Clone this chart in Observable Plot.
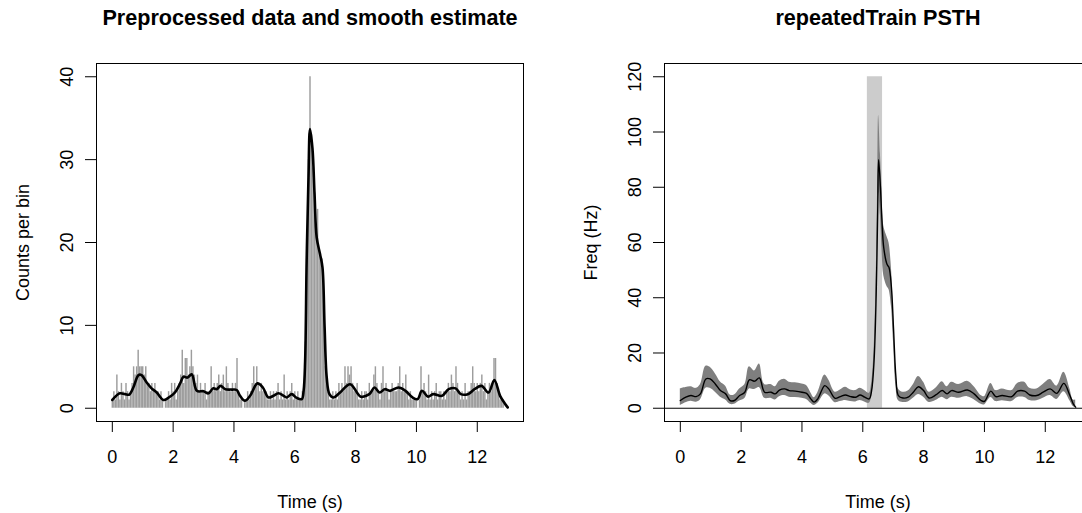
<!DOCTYPE html>
<html><head><meta charset="utf-8">
<script src="https://cdn.jsdelivr.net/npm/d3@7"></script>
<script src="https://cdn.jsdelivr.net/npm/@observablehq/plot@0.6"></script>
<style>
html,body{margin:0;padding:0;background:#fff;overflow:hidden;width:1082px;height:513px;position:relative;}
#left{position:absolute;left:0;top:0;width:541px;height:513px;}
#right{position:absolute;left:541px;top:0;width:551px;height:513px;}
svg{display:block;max-width:none !important;}
</style></head><body>
<div id="left"></div><div id="right"></div>
<script>
// ---------- data ----------
const leftTitle = "Preprocessed data and smooth estimate";
const rightTitle = "repeatedTrain PSTH";
const xLabel = "Time (s)";
const leftYLabel = "Counts per bin";
const rightYLabel = "Freq (Hz)";
const xTicks = [0, 2, 4, 6, 8, 10, 12];
const leftYTicks = [0, 10, 20, 30, 40];
const rightYTicks = [0, 20, 40, 60, 80, 100, 120];

// counts per bin (bins of 0.05 s from 0 to 13 s)
const binStart = 0, binWidth = 0.05;
const binCounts = [
  1,2,1,4,2,1,3,2,1,3,2,1,2,3,5,4,5,7,5,5,
  5,4,5,3,3,2,3,2,3,2,2,1,2,1,0,1,1,2,1,3,
  2,3,1,2,3,4,7,3,6,6,4,5,7,5,4,3,4,2,3,2,
  2,3,1,2,2,5,2,3,2,3,4,2,3,4,2,5,3,2,2,3,
  2,3,6,2,1,1,0,1,1,2,1,2,3,5,3,5,3,2,3,2,
  2,2,1,1,2,1,2,1,2,3,1,2,1,4,1,2,1,2,3,1,
  2,1,2,1,1,2,3,8,20,30,40,33,29,26,22,24,19,18,18,12,
  5,3,2,1,1,2,1,2,1,3,2,3,2,5,3,5,4,5,3,2,
  2,3,1,1,2,1,2,2,1,3,2,2,4,5,3,2,1,3,5,2,
  3,2,1,2,3,2,2,2,3,5,2,3,2,4,2,1,2,1,1,1,
  1,0,1,5,2,3,2,1,4,1,2,1,2,3,1,2,2,1,2,1,
  2,3,2,4,3,2,5,3,2,1,2,1,3,1,2,2,3,5,3,2,
  3,2,3,4,2,3,1,2,3,2,3,6,6,3,2,1,1,1,0,0,0
];

// smooth estimate (left panel)
const smoothTime = [0,0.25,0.42,0.56,0.69,0.86,0.96,1.13,1.29,1.46,1.68,1.84,2.06,2.23,2.34,2.47,2.61,2.78,3.0,3.16,3.32,3.43,3.56,3.71,3.93,4.09,4.2,4.36,4.53,4.77,4.95,5.13,5.3,5.46,5.63,5.73,5.9,6.06,6.23,6.29,6.34,6.39,6.45,6.5,6.58,6.65,6.72,6.83,6.91,6.98,7.05,7.14,7.27,7.49,7.82,8.17,8.45,8.62,8.79,8.96,9.13,9.41,9.64,9.87,10.04,10.18,10.38,10.55,10.84,11.06,11.29,11.46,11.69,11.91,12.14,12.37,12.56,12.75,12.9,13.0];
const smoothValue = [1.0,1.8,1.7,1.65,2.5,4.0,4.0,3.1,2.4,1.9,1.0,1.25,1.9,3.0,3.8,3.7,4.1,2.1,2.05,1.8,2.4,2.3,2.7,2.3,2.25,2.2,1.5,0.9,1.5,3.0,2.5,1.3,1.5,1.8,1.5,1.3,1.7,1.25,1.1,2.1,5.7,17.8,27.8,33.7,31.4,25.8,20.6,18.6,17.0,9.8,3.7,1.7,1.3,1.9,2.9,1.4,1.7,2.5,1.9,2.3,2.1,2.5,2.1,1.3,1.1,2.1,1.4,1.7,1.5,2.3,2.4,1.7,1.7,2.3,2.7,1.9,3.4,1.5,0.6,0.1];

// PSTH (right panel)
const psthTime = [0.0,0.18,0.35,0.52,0.66,0.84,0.98,1.15,1.32,1.49,1.64,1.78,1.95,2.12,2.27,2.44,2.6,2.77,2.98,3.12,3.26,3.43,3.58,3.78,4.0,4.15,4.29,4.4,4.52,4.75,4.88,5.09,5.26,5.43,5.6,5.77,5.91,6.06,6.21,6.29,6.37,6.44,6.49,6.52,6.58,6.63,6.69,6.8,6.86,6.94,7.01,7.09,7.17,7.32,7.49,7.66,7.83,8.0,8.18,8.4,8.61,8.77,8.92,9.15,9.44,9.66,9.89,10.0,10.21,10.37,10.58,10.9,11.09,11.32,11.49,11.72,11.93,12.16,12.38,12.61,12.81,12.92,13.0];
const psthMean = [2.8,4.0,4.6,4.2,5.2,10.6,10.6,8.8,6.4,5.2,2.8,2.8,4.6,5.8,10.3,9.8,11.0,5.8,5.8,5.2,6.6,7.0,6.4,6.2,5.8,5.4,3.4,2.2,3.4,8.2,7.0,3.6,4.2,4.8,4.2,4.0,4.8,4.0,3.4,6.4,17,41,71.5,90,80,68,58,52,51,44,29,11.2,4.6,3.7,4.0,5.8,7.8,6.4,3.7,4.8,6.4,5.2,6.4,5.8,6.6,5.2,2.8,2.5,6.2,4.2,4.6,4.2,6.2,6.2,4.8,4.6,5.8,7.0,5.4,9.0,4.6,1.6,0.4];
const psthLower = [1.0,2.0,2.5,2.2,3.0,7.2,7.2,5.8,4.0,3.0,1.4,1.4,2.6,3.5,7.0,6.8,7.5,3.6,3.6,3.0,4.2,4.6,4.0,3.9,3.6,3.2,1.8,1.0,1.8,5.2,4.5,2.0,2.4,2.8,2.4,2.3,2.8,2.3,1.8,4.2,13.5,35,63,78,70,58,48,44,43,37,24,8.0,2.8,2.1,2.3,3.6,5.0,4.0,2.1,2.8,4.0,3.1,4.0,3.6,4.2,3.1,1.4,1.2,3.9,2.4,2.7,2.4,3.9,3.9,2.8,2.7,3.6,4.6,3.2,6.0,2.7,0.6,0.1];
const psthUpper = [7.0,7.5,7.8,7.2,8.5,15.2,14.8,12.5,9.5,8.0,4.8,4.8,7.0,8.5,15.0,13.5,16.0,8.6,8.6,7.8,9.8,10.5,9.4,9.2,8.8,8.2,5.6,3.8,5.6,12.0,10.2,5.8,6.6,7.6,6.6,6.4,7.2,6.4,5.4,9.0,21,48,82,106,92,80,66,62,60,51,34,14.5,7.0,5.8,6.2,8.5,11.5,9.4,5.8,7.2,9.6,7.8,9.4,8.6,9.8,7.8,4.6,4.2,9.0,6.4,7.0,6.4,9.0,9.4,7.2,7.0,8.6,10.4,8.0,13.0,7.0,3.0,3.0];

// stimulus window
const stimStart = [6.15], stimEnd = [6.65], stimBottom = [0], stimTop = [120];

// ---------- build ----------
const font = "'Liberation Sans', Arial, Helvetica, sans-serif";
const countsData = binCounts.map((n, i) => ({t: binStart + i * binWidth, n})).filter(d => d.n > 0);
const smoothData = smoothTime.map((t, i) => ({t, y: smoothValue[i]}));
const psthData = psthTime.map((t, i) => ({t, mean: psthMean[i], lo: psthLower[i], hi: psthUpper[i]}));
const stimData = stimStart.map((s, i) => ({start: s, end: stimEnd[i], bottom: stimBottom[i], top: stimTop[i]}));

function decorations(yTicks, title, yLabel) {
  return [
    Plot.frame({stroke: "black"}),
    Plot.axisX({ticks: xTicks, tickSize: 11, tickPadding: 18, fontSize: 18, label: null}),
    Plot.axisY({ticks: yTicks, tickSize: 11, tickFormat: () => "", label: null}),
    Plot.text(yTicks, {y: d => d, text: d => String(d), frameAnchor: "left", dx: -24, rotate: -90, textAnchor: "middle", lineAnchor: "bottom", fontSize: 18}),
    Plot.text([title], {text: d => d, frameAnchor: "top", dy: -39, lineAnchor: "bottom", fontSize: 21.6, fontWeight: "bold"}),
    Plot.text([xLabel], {text: d => d, frameAnchor: "bottom", dy: 86, lineAnchor: "bottom", fontSize: 18}),
    Plot.text([yLabel], {text: d => d, frameAnchor: "left", dx: -68, rotate: -90, textAnchor: "middle", lineAnchor: "bottom", fontSize: 18})
  ];
}

const left = Plot.plot({
  width: 541, height: 513,
  marginLeft: 96, marginRight: 18, marginTop: 63, marginBottom: 92,
  style: {fontFamily: font, fontSize: "18px", background: "white", color: "black", maxWidth: "none"},
  x: {domain: [-0.52, 13.52]},
  y: {domain: [-1.6, 41.6]},
  marks: [
    Plot.ruleX(countsData, {x: "t", y1: 0, y2: "n", stroke: "#9d9d9d", strokeWidth: 1.45}),
    Plot.line(smoothData, {x: "t", y: "y", stroke: "black", strokeWidth: 2.6, curve: "catmull-rom"}),
    ...decorations(leftYTicks, leftTitle, leftYLabel)
  ]
});
document.getElementById("left").appendChild(left);

const right = Plot.plot({
  width: 551, height: 513,
  marginLeft: 123, marginRight: 1, marginTop: 63, marginBottom: 92,
  style: {fontFamily: font, fontSize: "18px", background: "white", color: "black", maxWidth: "none"},
  x: {domain: [-0.52, 13.52]},
  y: {domain: [-4.8, 124.8]},
  marks: [
    Plot.rect(stimData, {x1: "start", x2: "end", y1: "bottom", y2: "top", fill: "#cccccc"}),
    Plot.areaY(psthData, {x: "t", y1: "lo", y2: "hi", fill: "#7f7f7f", curve: "catmull-rom"}),
    Plot.ruleY([0], {stroke: "black"}),
    Plot.line(psthData, {x: "t", y: "mean", stroke: "black", strokeWidth: 1.4, curve: "catmull-rom"}),
    ...decorations(rightYTicks, rightTitle, rightYLabel)
  ]
});
document.getElementById("right").appendChild(right);
</script></body></html>
